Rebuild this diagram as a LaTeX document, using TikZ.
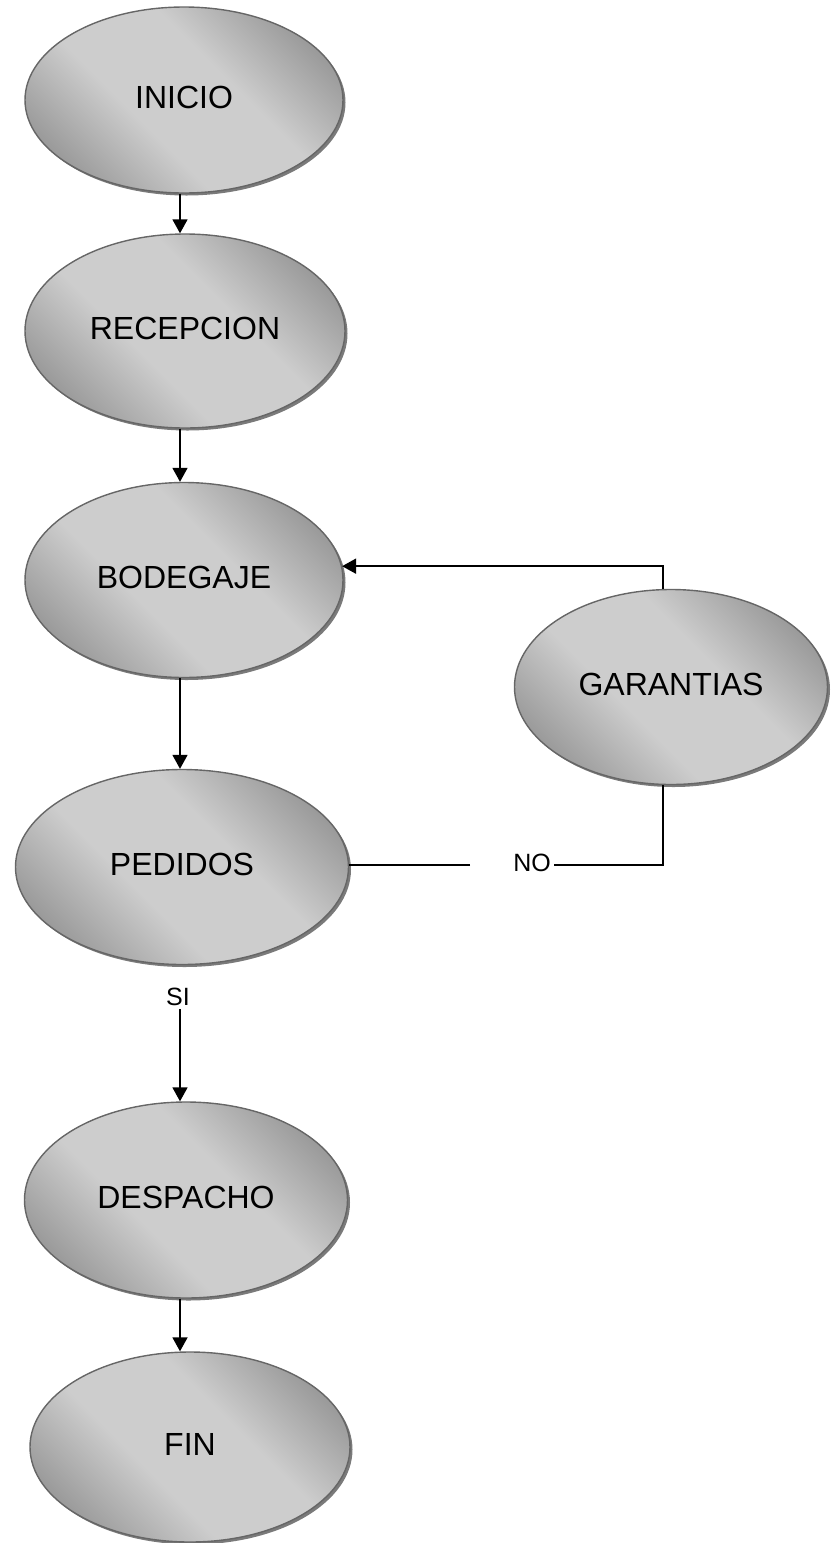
\documentclass[tikz,border=0pt]{standalone}
\usepackage{fontspec}
\setmainfont{Liberation Sans}
\usetikzlibrary{shapes.geometric,shadows,arrows.meta}
\definecolor{dk}{HTML}{878787}
\definecolor{lt}{HTML}{CDCDCD}
\definecolor{bord}{HTML}{666666}
\definecolor{shd}{HTML}{7A7A7A}
\pgfdeclareverticalshading{ellshade}{100bp}{color(0bp)=(dk); color(18bp)=(dk); color(41bp)=(lt); color(59bp)=(lt); color(82bp)=(dk); color(100bp)=(dk)}
\tikzset{
  ell/.style={ellipse, draw=bord, line width=1.4pt, shading=ellshade, shading angle=-45,
    drop shadow={shadow xshift=2.5pt, shadow yshift=-2.5pt, fill=shd, opacity=1},
    font=\fontsize{32}{36}\selectfont, text depth=6pt, inner sep=2pt},
  lbl/.style={font=\fontsize{25}{30}\selectfont, inner sep=3pt},
  arr/.style={line width=1.8pt, -{Triangle[length=14pt,width=15pt]}},
  conn/.style={line width=1.8pt}
}
\begin{document}
\begin{tikzpicture}[x=1pt,y=-1pt]
\useasboundingbox (0,0) rectangle (832,1543);
\node[ell, minimum width=318pt, minimum height=186pt] (inicio) at (184,100) {INICIO};
\node[ell, minimum width=320pt, minimum height=194pt] (recep) at (185,331) {RECEPCION};
\node[ell, minimum width=318pt, minimum height=195pt] (bodeg) at (184,580) {BODEGAJE};
\node[ell, minimum width=333pt, minimum height=195pt] (pedidos) at (182,867) {PEDIDOS};
\node[ell, minimum width=323pt, minimum height=196pt] (desp) at (186,1200) {DESPACHO};
\node[ell, minimum width=320pt, minimum height=190pt] (fin) at (190,1447) {FIN};
\node[ell, minimum width=313pt, minimum height=195pt] (garant) at (671,687) {GARANTIAS};
\node[lbl] (si) at (178,997) {SI};
\node[lbl] (no) at (532,863) {NO};
\coordinate (ax) at (180,0);
\coordinate (gx) at (663,0);
\coordinate (nogap) at (470,865);
\draw[arr] (inicio.south -| ax) -- (recep.north -| ax);
\draw[arr] (recep.south -| ax) -- (bodeg.north -| ax);
\draw[arr] (bodeg.south -| ax) -- (pedidos.north -| ax);
\draw[arr] (si.south -| ax) -- (desp.north -| ax);
\draw[arr] (desp.south -| ax) -- (fin.north -| ax);
\draw[arr] (garant.north -| gx) |- (bodeg.5);
\draw[conn] (garant.south -| gx) |- (no.east |- nogap);
\draw[conn] (nogap) -- (nogap -| pedidos.east);
\end{tikzpicture}
\end{document}
